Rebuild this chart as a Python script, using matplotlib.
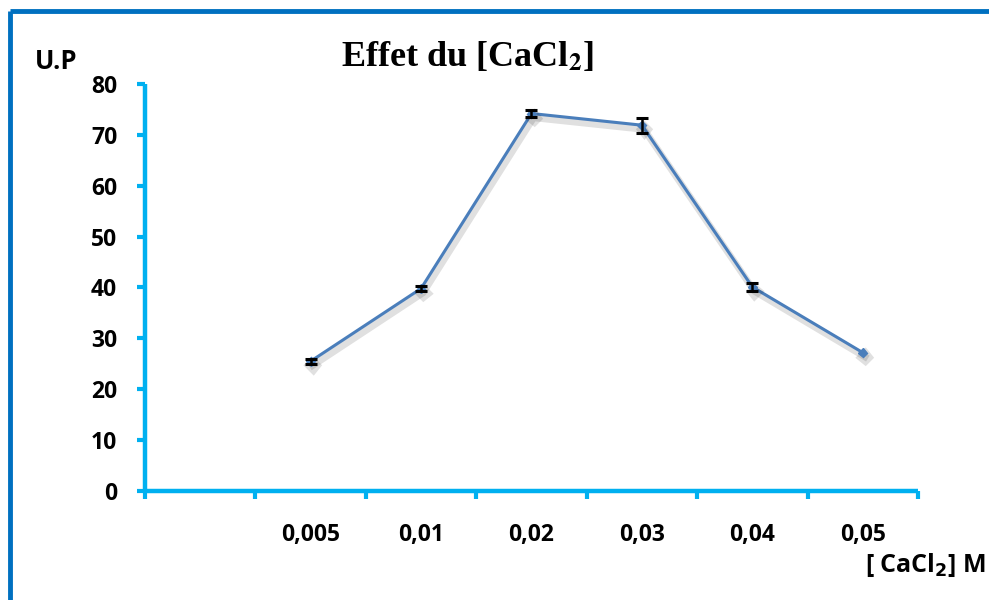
import matplotlib.pyplot as plt
import matplotlib.patheffects as pe
import numpy as np

# Data
categories = ['', '0,005', '0,01', '0,02', '0,03', '0,04', '0,05']
up_values = [np.nan, 25.5, 39.8, 74.2, 71.9, 40.1, 27.2]
up_errors = [np.nan, 0.5, 0.5, 0.6, 1.5, 0.8, np.nan]
y_ticks = [0, 10, 20, 30, 40, 50, 60, 70, 80]

axis_blue = '#00B0F0'
frame_blue = '#0070C0'
line_blue = '#4A7EBB'
label_font = 'Open Sans'

fig = plt.figure(figsize=(9.89, 6), dpi=100)
ax = fig.add_axes([0.1466, 0.1817, 0.7816, 0.6783])

x = np.arange(len(categories)) + 0.5
ax.plot(x, up_values, color=line_blue, lw=2.2, marker='D', ms=4.5,
        zorder=3,
        path_effects=[pe.SimpleLineShadow(offset=(1.5, -3), alpha=0.12, rho=0.6,
                                          linewidth=5),
                      pe.Normal()])
ax.errorbar(x, up_values, yerr=up_errors, fmt='none', ecolor='black',
            elinewidth=1.8, capsize=4.5, capthick=2.2, zorder=4)

ax.set_xlim(0, len(categories))
ax.set_ylim(0, 80)
ax.set_yticks(y_ticks)
ax.set_yticklabels([str(v) for v in y_ticks], fontsize=16.5, fontweight='bold',
                   family=label_font)
ax.set_xticks(np.arange(len(categories) + 1))
ax.set_xticklabels([])
ax.set_xticks(x, minor=True)
ax.set_xticklabels(categories, minor=True, fontsize=16.5, fontweight='bold',
                   family=label_font)
ax.tick_params(axis='x', which='minor', length=0, pad=23)
ax.tick_params(axis='x', which='major', length=6, width=3, color=axis_blue,
               direction='out')
ax.tick_params(axis='y', length=6, width=3, color=axis_blue, direction='out',
               pad=14)

for side in ['top', 'right']:
    ax.spines[side].set_visible(False)
for side in ['left', 'bottom']:
    ax.spines[side].set_color(axis_blue)
    ax.spines[side].set_linewidth(3.2)
    ax.spines[side].set_capstyle('butt')

fig.text(0.473, 0.905, r'Effet du [CaCl$_\mathbf{2}$]', ha='center', va='center',
         fontsize=26, fontweight='bold', family='Liberation Serif',
         math_fontfamily='stix')
fig.text(0.057, 0.898, 'U.P', ha='center', va='center', fontsize=18.5,
         fontweight='bold', family=label_font)
fig.text(0.997, 0.058, r'[ CaCl$_\mathbf{2}$] M', ha='right', va='center',
         fontsize=18, fontweight='bold', family=label_font)

# blue frame on top and left edges
fig.add_artist(plt.Line2D([0.0105, 1.0], [0.981, 0.981], color=frame_blue, lw=3.5,
                          transform=fig.transFigure, solid_capstyle='butt'))
fig.add_artist(plt.Line2D([0.0105, 0.0105], [0.0, 0.981], color=frame_blue, lw=3.5,
                          transform=fig.transFigure, solid_capstyle='butt'))

fig.savefig('out.png', dpi=100)
